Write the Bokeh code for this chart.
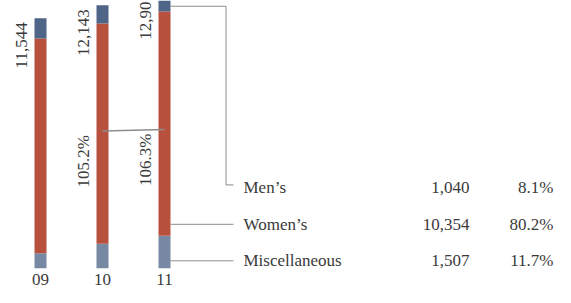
import math
from bokeh.plotting import figure
from bokeh.models import ColumnDataSource, Range1d, FixedTicker
from bokeh.core.properties import value
from bokeh.embed import file_html
from bokeh.resources import INLINE

# ---- data ----
years = ["09", "10", "11"]
mens = [930, 842, 1040]
womens = [9914, 10162, 10354]
misc = [700, 1139, 1507]
totals = [11544, 12143, 12901]
growth_labels = ["105.2%", "106.3%"]
legend_names = ["Men\u2019s", "Women\u2019s", "Miscellaneous"]
legend_values = ["1,040", "10,354", "1,507"]
legend_shares = ["8.1%", "80.2%", "11.7%"]

# ---- style / layout ----
FONT = "Liberation Serif"
FS = "17px"
TXT = "#3a3a3a"
LINE = "#8c8c8c"
C_MEN = "#4e6588"
C_WOMEN = "#b8503e"
C_MISC = "#7788a2"
PX = 62.0                 # pixels per category step
X0 = 40.0                 # pixel of the first bar centre
BAR_W = 12 / PX
W, H = 555, 287


def sx(px):
    return (px - X0) / PX


xs = list(range(len(years)))
src = ColumnDataSource(dict(x=xs, mens=mens, womens=womens, misc=misc))

p = figure(width=W, height=H, output_backend="svg", toolbar_location=None,
           x_range=Range1d(sx(0), sx(W)),
           y_range=Range1d(0, 12367), min_border=0, y_axis_location=None)
p.outline_line_color = None
p.grid.grid_line_color = None
p.background_fill_color = "white"

p.vbar_stack(["misc", "womens", "mens"], x="x", width=BAR_W,
             color=[C_MISC, C_WOMEN, C_MEN], line_color=None, source=src)

# totals, rotated
tsrc = ColumnDataSource(dict(x=xs, y=totals, t=[f"{v:,}" for v in totals]))
p.text(x="x", y="y", text="t", source=tsrc, angle=math.pi / 2,
       text_align="right", text_baseline="alphabetic", x_offset=-19, y_offset=4,
       text_font=value(FONT), text_font_size=FS, text_color=TXT)

# growth connector and labels
gy = [6340, 6410]
p.line(x=[1, 2], y=gy, line_color=LINE, line_width=1.5)
gsrc = ColumnDataSource(dict(x=[1, 2], y=gy, t=growth_labels))
p.text(x="x", y="y", text="t", source=gsrc, angle=math.pi / 2,
       text_align="right", text_baseline="alphabetic", x_offset=-19, y_offset=4,
       text_font=value(FONT), text_font_size=FS, text_color=TXT)

# legend connectors
xb = 2 + BAR_W / 2
xv = sx(225.5)
xe = sx(233)
rows = [3723, 2039, 355]
p.line(x=[xb, xv, xv, xe], y=[12101, 12101, 3856, 3856], line_color=LINE, line_width=1)
p.line(x=[xb, xe], y=[rows[1], rows[1]], line_color=LINE, line_width=1)
p.line(x=[xb, xe], y=[rows[2], rows[2]], line_color=LINE, line_width=1)

lsrc = ColumnDataSource(dict(y=rows, n=legend_names, v=legend_values, s=legend_shares))
for col, xpos, al in [("n", sx(243), "left"),
                      ("v", sx(469), "right"),
                      ("s", sx(553), "right")]:
    p.text(x=xpos, y="y", text=col, source=lsrc, text_align=al, text_baseline="middle",
           text_font=value(FONT), text_font_size=FS, text_color=TXT)

ax = p.xaxis[0]
ax.ticker = FixedTicker(ticks=xs)
ax.major_label_overrides = {i: y for i, y in zip(xs, years)}
ax.axis_line_color = None
ax.major_tick_line_color = None
ax.minor_tick_line_color = None
ax.major_tick_out = 0
ax.major_tick_in = 0
ax.major_label_standoff = 5
ax.major_label_text_font = FONT
ax.major_label_text_font_size = FS
ax.major_label_text_color = TXT

open("out.html", "w").write(file_html(p, INLINE))
